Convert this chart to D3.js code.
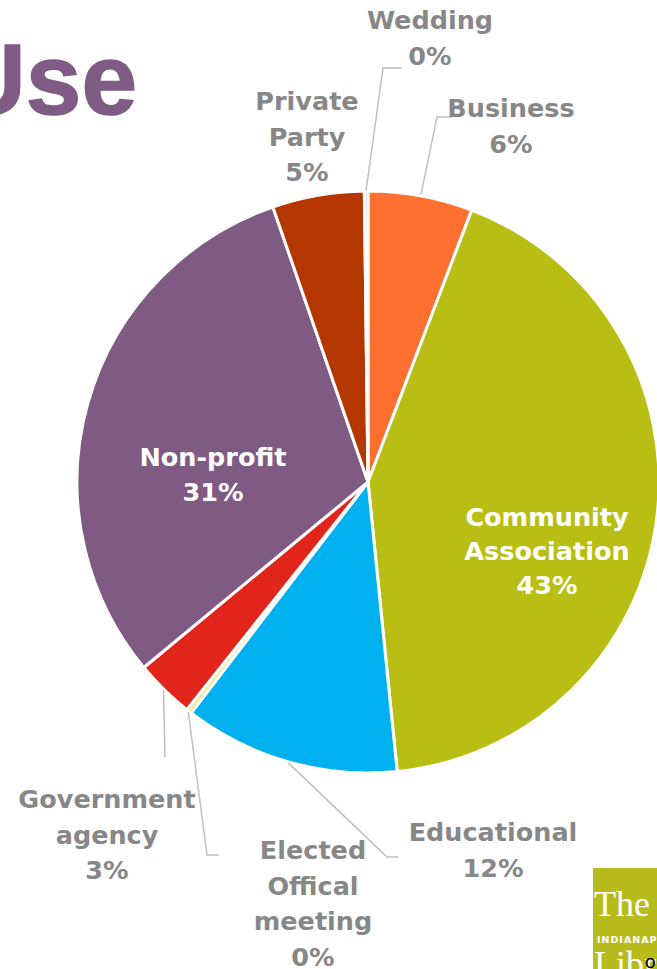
<!DOCTYPE html>
<html>
<head>
<meta charset="utf-8">
<script src="https://cdn.jsdelivr.net/npm/d3@7"></script>
<style>
  html, body { margin: 0; padding: 0; background: #ffffff; overflow: hidden; }
  svg { display: block; }
</style>
</head>
<body>
<svg id="chart" width="657" height="969"></svg>
<script>
// Room use by booking type (share of bookings, %)
const categories = [
  "Business",
  "Community Association",
  "Educational",
  "Elected Offical meeting",
  "Government agency",
  "Non-profit",
  "Private Party",
  "Wedding"
];
const shares = [5.8, 42.6, 12.0, 0.3, 3.3, 30.7, 5.1, 0.2];
const sliceColors = ["#FF6F2F", "#B9BE14", "#00B0EF", "#F3E88A", "#E1251B", "#7F5B84", "#B43600", "#C9C9C9"];

// Label placement: text lines, centre x, first baseline, whether inside the slice,
// and leader-line bend / end points for labels placed outside the pie
const labelLayout = [
  { lines: ["Business"], x: 511, y: 117, inside: false, bend: [437, 117], end: [452, 117] },
  { lines: ["Community", "Association"], x: 547, y: 526, inside: true, lh: 34 },
  { lines: ["Educational"], x: 493, y: 841, inside: false, bend: [387, 857], end: [398, 857] },
  { lines: ["Elected", "Offical", "meeting"], x: 313, y: 859, inside: false, bend: [207, 855], end: [219, 855] },
  { lines: ["Government", "agency"], x: 107, y: 808, inside: false, bend: [165, 757], end: [165, 757] },
  { lines: ["Non-profit"], x: 213, y: 466, inside: true, lh: 35 },
  { lines: ["Private", "Party"], x: 307, y: 110, inside: false },
  { lines: ["Wedding"], x: 430, y: 29, inside: false, bend: [383, 68], end: [402, 68] }
];

const svg = d3.select("#chart");
const cx = 368, cy = 482, radius = 291;
const lineHeight = 35.5;
const pct = d3.format(".0%");
const total = d3.sum(shares);

// Heading (partly running off the left edge)
svg.append("text")
  .attr("x", 137)
  .attr("y", 114)
  .attr("text-anchor", "end")
  .attr("font-family", "Liberation Sans, Arial, sans-serif")
  .attr("font-weight", "bold")
  .attr("font-size", 100)
  .attr("fill", "#7F5B85")
  .attr("stroke", "#7F5B85")
  .attr("stroke-width", 1.5)
  .text("Use");

const pie = d3.pie().sort(null).value(d => d);
const arcs = pie(shares);
const arc = d3.arc().innerRadius(0).outerRadius(radius);

const g = svg.append("g").attr("transform", `translate(${cx},${cy})`);

g.selectAll("path.slice")
  .data(arcs)
  .join("path")
  .attr("class", "slice")
  .attr("d", arc)
  .attr("fill", (d, i) => sliceColors[i])
  .attr("stroke", "#ffffff")
  .attr("stroke-width", 3)
  .attr("stroke-linejoin", "round");

// Leader lines from the slice rim to outside labels
function rimPoint(d, r) {
  const a = (d.startAngle + d.endAngle) / 2;
  return [cx + r * Math.sin(a), cy - r * Math.cos(a)];
}

const leaders = svg.append("g")
  .attr("fill", "none")
  .attr("stroke", "#BFBFBF")
  .attr("stroke-width", 1.5);

arcs.forEach((d, i) => {
  const L = labelLayout[i];
  if (L.inside || !L.bend) return;
  const p0 = rimPoint(d, radius + 1);
  const pts = [p0, L.bend, L.end];
  leaders.append("path").attr("d", d3.line()(pts));
});

// Category names with their percentage
const labels = svg.append("g")
  .attr("font-family", "DejaVu Sans, sans-serif")
  .attr("font-weight", "bold")
  .attr("font-size", 25.5)
  .attr("text-anchor", "middle");

arcs.forEach((d, i) => {
  const L = labelLayout[i];
  const lh = L.lh || lineHeight;
  const t = labels.append("text")
    .attr("fill", L.inside ? "#ffffff" : "#878787");
  const rows = L.lines.concat([pct(shares[i] / total)]);
  rows.forEach((s, k) => {
    t.append("tspan")
      .attr("x", L.x)
      .attr("y", L.y + k * lh)
      .text(s);
  });
});

// Library logo tile in the corner
const logo = svg.append("g");
logo.append("rect")
  .attr("x", 593).attr("y", 868)
  .attr("width", 80).attr("height", 110)
  .attr("fill", "#B7BC1C");
logo.append("text")
  .attr("x", 594).attr("y", 916)
  .attr("font-family", "Liberation Serif, DejaVu Serif, serif")
  .attr("font-size", 36)
  .attr("fill", "#ffffff")
  .text("The");
logo.append("text")
  .attr("x", 597).attr("y", 943)
  .attr("font-family", "DejaVu Sans, sans-serif")
  .attr("font-weight", "bold")
  .attr("font-size", 9.5)
  .attr("letter-spacing", 1)
  .attr("fill", "#ffffff")
  .text("INDIANAPOLIS");
logo.append("text")
  .attr("x", 594).attr("y", 976)
  .attr("font-family", "Liberation Serif, DejaVu Serif, serif")
  .attr("font-size", 36)
  .attr("fill", "#ffffff")
  .text("Library");
svg.append("text")
  .attr("x", 645).attr("y", 968)
  .attr("font-family", "Liberation Sans, Arial, sans-serif")
  .attr("font-size", 19)
  .attr("fill", "#000000")
  .text("o");
</script>
</body>
</html>
